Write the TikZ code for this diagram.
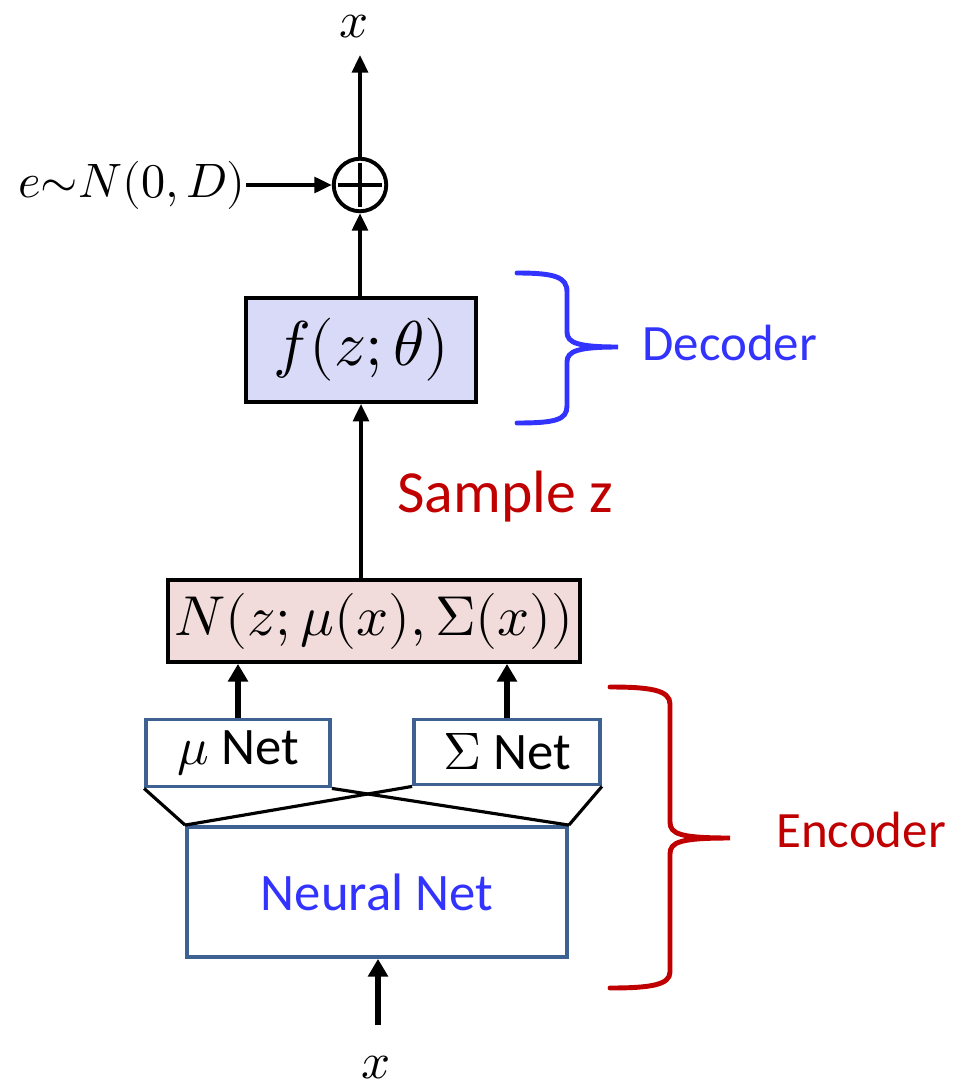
\documentclass[tikz,border=0pt]{standalone}
\usepackage{fontspec}
\usepackage{unicode-math}
\setmainfont{Carlito}
\setmathfont{latinmodern-math.otf}
\usetikzlibrary{positioning,arrows.meta,calc}
\definecolor{decfill}{HTML}{D9D9F8}
\definecolor{gaussfill}{HTML}{F2DCDB}
\definecolor{netclr}{HTML}{3D6190}
\definecolor{decclr}{HTML}{3333FF}
\definecolor{encclr}{HTML}{C00000}
\tikzset{
  block/.style   = {draw, line width=2.2pt, inner sep=0pt, align=center},
  decbox/.style  = {block, fill=decfill, font=\fontsize{36}{40}\selectfont},
  gaussbox/.style= {block, fill=gaussfill, font=\fontsize{32}{40}\selectfont},
  netbox/.style  = {block, draw=netclr, font=\fontsize{30}{34}\selectfont},
  flow/.style    = {-{Triangle[length=10pt,width=9pt]}, line width=2.1pt},
  bigflow/.style = {-{Triangle[length=10pt,width=11pt]}, line width=3.8pt},
  wire/.style    = {line width=1.8pt},
  brace/.style   = {line width=2.8pt, line cap=round},
  mathlbl/.style = {font=\fontsize{29}{34}\selectfont, inner sep=0pt},
  tag/.style     = {font=\fontsize{29}{34}\selectfont, inner sep=0pt, anchor=west},
}
\begin{document}
\begin{tikzpicture}[x=0.02cm, y=-0.02cm]
\useasboundingbox (0,0) rectangle (953,1088);

%% --- decoder side ------------------------------------------------------
\node[mathlbl] (xout) at (354,27) {$x$};
\node[circle, draw, line width=2.2pt, minimum size=1.05cm, inner sep=0pt] (plus) at (360,185) {};
\draw[line width=2.2pt] ($(plus.north)+(0,6)$) -- ($(plus.south)+(0,-6)$)
                        ($(plus.west)+(6,0)$) -- ($(plus.east)+(-6,0)$);
\coordinate (xtop) at (360,55);
\node[mathlbl, anchor=east, font=\fontsize{27.5}{34}\selectfont] (noise) at (246,185)
  {$e{\sim}N(0,D)$};
\node[decbox, minimum width=4.6cm, minimum height=2.08cm] (dec) at (361,350)
  {$f(z;\theta)$};

\draw[flow] (plus) -- (xtop);
\draw[flow] (noise) -- (plus);
\draw[flow] (dec.north -| plus) -- (plus);

%% --- sampling ----------------------------------------------------------
\node[gaussbox, minimum width=8.24cm, minimum height=1.64cm] (gauss) at (374,621)
  {$N(z;\mu(x),\Sigma(x))$};
\node[tag, text=encclr, font=\fontsize{34}{38}\selectfont] (sample) at (397,497) {Sample z};
\draw[flow] (gauss.north -| dec) -- (dec);

%% --- encoder side ------------------------------------------------------
\node[netbox, minimum width=3.68cm, minimum height=1.34cm] (munet) at (238,753)
  {$\mu$ Net};
\node[netbox, minimum width=3.72cm, minimum height=1.3cm] (signet) at (507,752)
  {$\Sigma$ Net};
\node[netbox, minimum width=7.6cm, minimum height=2.6cm, text=decclr] (nn) at (377,892)
  {Neural Net};
\coordinate (xin) at (378,1025);
\node[mathlbl] (xbot) at (376,1068) {$x$};

\draw[bigflow] (munet.north) -- (munet.north |- gauss.south);
\draw[bigflow] (signet.north) -- (signet.north |- gauss.south);
\draw[wire] (munet.south west) -- (nn.north west);
\draw[wire] (munet.south east) -- (nn.north east);
\draw[wire] (signet.south west) -- (nn.north west);
\draw[wire] (signet.south east) -- (nn.north east);
\draw[bigflow] (xin) -- (nn.south -| xin);

%% --- braces ------------------------------------------------------------
\draw[brace, draw=decclr]
  (517,273) .. controls (555,273) and (567,277) .. (567,292) -- (567,332)
  .. controls (567,343) and (578,347) .. (618,347)
  .. controls (578,347) and (567,351) .. (567,362) -- (567,406)
  .. controls (567,420) and (555,423) .. (517,423);
\node[tag, text=decclr] (declbl) at (642,343) {Decoder};

\draw[brace, draw=encclr]
  (610,687) .. controls (650,687) and (670,690) .. (670,704) -- (670,822)
  .. controls (670,834) and (680,838) .. (730,838)
  .. controls (680,838) and (670,842) .. (670,854) -- (670,972)
  .. controls (670,985) and (650,988) .. (610,988);
\node[tag, text=encclr] (enclbl) at (776,830) {Encoder};

\end{tikzpicture}
\end{document}
